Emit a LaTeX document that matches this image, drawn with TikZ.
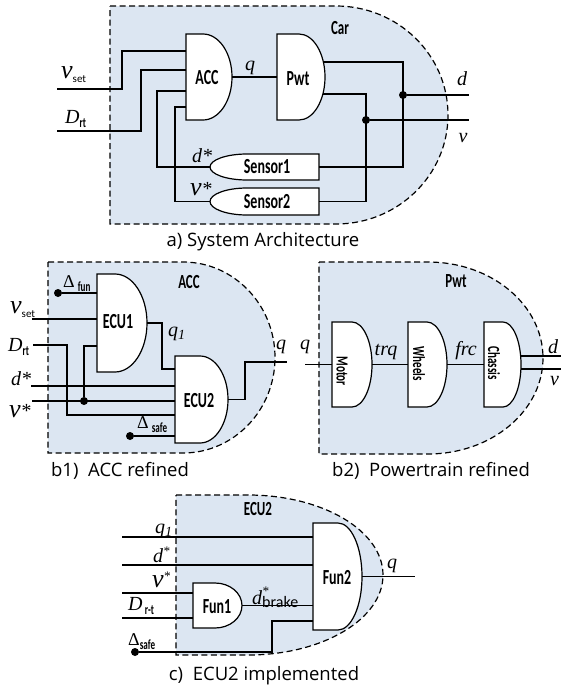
\documentclass[tikz,border=0pt]{standalone}
\usepackage{fontspec}
\setmainfont{Liberation Serif}
\newfontfamily\capfont{Open Sans}
\newfontfamily\condfont[FakeStretch=0.65]{Carlito}
\newfontfamily\plainsans{Carlito}

\definecolor{domeblue}{RGB}{220,230,242}

% flat box closed by a half ellipse on the right
\newcommand{\dome}[6]{%
  \path[#1] (#2,#3) -- (#5,#3)
    arc[start angle=-90, end angle=90, x radius=#6, y radius={(#4-#3)/2}]
    -- (#2,#4) -- cycle;}
\newcommand{\gatebox}[6]{%
  \dome{gateline}{#2}{#3}{#4}{#2+#5}{#6}
  \node[port, minimum width={(#5+#6)*1pt}, minimum height={(#4-#3)*1pt}]
    (#1) at ({#2+(#5+#6)/2},{(#3+#4)/2}) {};}
% same, rounded on the left
\newcommand{\sensorbox}[6]{%
  \path[gateline] (#2,#3) -- (#2-#5,#3)
    arc[start angle=-90, end angle=-270, x radius=#6, y radius={(#4-#3)/2}]
    -- (#2,#4) -- cycle;
  \node[port, minimum width={(#5+#6)*1pt}, minimum height={(#4-#3)*1pt}]
    (#1) at ({#2-(#5+#6)/2},{(#3+#4)/2}) {};}
\newcommand{\lowsans}[1]{\raisebox{-4pt}{\plainsans\upshape\fontsize{11}{11}\selectfont #1}}
\newcommand{\lowbold}[1]{\raisebox{-4pt}{\condfont\upshape\bfseries\fontsize{14}{14}\selectfont #1}}
\newcommand{\bigv}{{\fontsize{26}{26}\selectfont v}}
\newcommand{\upstar}{\raisebox{7pt}{\fontsize{13}{13}\selectfont *}}

\begin{document}
\begin{tikzpicture}[x=1pt, y=-1pt,
  wire/.style={line width=1.2pt},
  gateline/.style={draw, fill=white, line width=1.2pt},
  domeline/.style={draw, fill=domeblue, line width=1.2pt, dash pattern=on 6pt off 3.5pt},
  port/.style={inner sep=0pt, outer sep=0pt},
  blocktext/.style={font=\condfont\bfseries\fontsize{21.5}{21.5}\selectfont, inner sep=0pt},
  smallblock/.style={font=\condfont\bfseries\fontsize{17}{17}\selectfont, inner sep=0pt, rotate=-90},
  title/.style={font=\condfont\bfseries\fontsize{20}{20}\selectfont, inner sep=0pt},
  sig/.style={font=\itshape\fontsize{20}{20}\selectfont, inner sep=0pt},
  delta/.style={font=\upshape\fontsize{18}{18}\selectfont, inner sep=0pt},
  caption/.style={font=\capfont\fontsize{18.5}{20}\selectfont, inner sep=0pt},
  dot/.style={circle, fill, inner sep=0pt, minimum size=8pt}]
\useasboundingbox (0,0) rectangle (561,696);

% a) system architecture
\dome{domeline}{110}{6}{224}{336}{112}
\node[title] (cartitle) at (340,28) {Car};
\gatebox{ACC}{186}{34}{120}{17}{29}
\gatebox{Pwt}{277}{34}{120}{22}{26}
\sensorbox{S1}{319}{154}{180}{72}{37}
\sensorbox{S2}{319}{188}{215}{72}{37}
\node[blocktext] (acctext) at (207,78) {ACC};
\node[blocktext] (pwttext) at (298,79) {Pwt};
\node[blocktext] (s1text) at (267,167) {Sensor1};
\node[blocktext] (s2text) at (267,202) {Sensor2};

\coordinate (vset) at (57,89);
\coordinate (drt) at (57,131);
\coordinate (acc1) at (186,51);
\coordinate (acc2) at (186,70);
\coordinate (acc3) at (186,91);
\coordinate (acc4) at (186,107);
\coordinate (pwt1) at (323,62);
\coordinate (pwt2) at (323,94);
\coordinate (dout) at (469,95);
\coordinate (vout) at (469,120);
\node[dot] (j1) at (403,95) {};
\node[dot] (j2) at (366,120) {};

\draw[wire] (vset) -- ++(65,0) |- (acc1);
\draw[wire] (drt) -- ++(84,0) |- (acc2);
\draw[wire] (acc3) -- ++(-29,0) |- (S1.west);
\draw[wire] (acc4) -- ++(-11,0) |- (S2.west);
\draw[wire] (ACC.east) -- (Pwt.west);
\draw[wire] (pwt1) -- ++(80,0) |- (S1.east);
\draw[wire] (pwt2) -- ++(43,0) |- (S2.east);
\draw[wire] (j1) -- (dout);
\draw[wire] (j2) -- (vout);

\node[sig, anchor=base west] (vsetlab) at (61,78) {\bigv\lowsans{set}};
\node[sig, anchor=base west] (drtlab) at (65,123) {D\lowbold{rt}};
\node[sig, anchor=base] (qlab) at (250,70) {q};
\node[sig, anchor=base west] (dstarlab) at (192,162) {d*};
\node[sig, anchor=base west] (vstarlab) at (190,195) {\bigv*};
\node[sig, anchor=base] (doutlab) at (462,85) {d};
\node[sig, anchor=base] (voutlab) at (463,142) {v};
\node[caption, anchor=base] (capa) at (263,246) {a) System Architecture};

% b1) ACC refined
\dome{domeline}{48}{262}{453}{183}{92}
\node[title] (acctitle) at (189,282) {ACC};
\gatebox{ECU1}{97}{274}{372}{18}{32}
\gatebox{ECUb}{175}{356}{443}{25}{28}
\node[blocktext] (ecu1text) at (118,322) {ECU1};
\node[blocktext] (ecubtext) at (199,401) {ECU2};

\coordinate (vsetb) at (32,319);
\coordinate (drtb) at (33,345);
\coordinate (dsb) at (31,386);
\coordinate (vsb) at (32,401);
\coordinate (e1c) at (97,346);
\coordinate (e2a) at (175,369);
\coordinate (e2e) at (175,415);
\coordinate (qoutb) at (287,362);
\node[dot] (dfun) at (58,293) {};
\node[dot] (jv) at (84,401) {};
\node[dot] (dsafeb) at (130,436) {};

\draw[wire] (dfun) -- (ECU1.west |- dfun);
\draw[wire] (vsetb) -- (ECU1.west |- vsetb);
\draw[wire] (e1c) -| (jv);
\draw[wire] (drtb) -- ++(34,0) |- (e2e);
\draw[wire] (dsb) -- (ECUb.west |- dsb);
\draw[wire] (vsb) -- (ECUb.west |- vsb);
\draw[wire] (ECU1.east) -- ++(15,0) |- (e2a);
\draw[wire] (dsafeb) -- (ECUb.west |- dsafeb);
\draw[wire] (ECUb.east) -- ++(17,0) |- (qoutb);

\node[delta, anchor=base west] (dfunlab) at (63,287) {Δ\,\lowbold{fun}};
\node[sig, anchor=base west] (vsetblab) at (10,313) {\bigv\lowsans{set}};
\node[sig, anchor=base west] (drtblab) at (8,351) {D\lowbold{rt}};
\node[sig, anchor=base west] (dsblab) at (11,385) {d*};
\node[sig, anchor=base west] (vsblab) at (9,417) {\bigv*};
\node[sig, anchor=base west] (q1lab) at (168,336) {q\raisebox{-3pt}{\fontsize{14}{14}\selectfont 1}};
\node[delta, anchor=base west] (dsafeblab) at (137,428) {Δ\,\lowbold{safe}};
\node[sig, anchor=base] (qoutblab) at (281,349) {q};
\node[caption, anchor=base] (capb1) at (120,476) {b1)~~ACC refined};

% b2) powertrain refined
\dome{domeline}{319}{262}{454}{428}{115}
\node[title] (pwttitle) at (456,281) {Pwt};
\gatebox{Motor}{332}{322}{407}{20}{20}
\gatebox{Wheels}{408}{322}{407}{19}{20}
\gatebox{Chassis}{484}{322}{407}{19}{18}
\node[smallblock] (motortext) at (342,371) {Motor};
\node[smallblock] (wheelstext) at (419,364) {Wheels};
\node[smallblock] (chassistext) at (494,363) {Chassis};

\coordinate (qinb) at (305,364.5);
\coordinate (dchs) at (561,356);
\coordinate (vchs) at (561,369);
\draw[wire] (qinb) -- (Motor.west);
\draw[wire] (Motor.east) -- (Wheels.west);
\draw[wire] (Wheels.east) -- (Chassis.west);
\draw[wire] (Chassis.east |- dchs) -- (dchs);
\draw[wire] (Chassis.east |- vchs) -- (vchs);

\node[sig, anchor=base] (qinlab) at (305,349) {q};
\node[sig, anchor=base] (trqlab) at (386,355) {trq};
\node[sig, anchor=base] (frclab) at (466,355) {frc};
\node[sig, anchor=base west] (dchslab) at (548,353) {d};
\node[sig, anchor=base west] (vchslab) at (550,385) {v};
\node[caption, anchor=base] (capb2) at (431,476) {b2)~~Powertrain refined};

% c) ECU2 implemented
\dome{domeline}{176}{495}{655}{248}{135}
\node[title] (ecutitle) at (258,509) {ECU2};
\gatebox{Fun1}{193}{583}{628}{22}{27}
\gatebox{Fun2}{313}{523}{630}{25}{24}
\node[blocktext] (fun1text) at (217,607) {Fun1};
\node[blocktext] (fun2text) at (337,578) {Fun2};

\coordinate (q1c) at (122,537);
\coordinate (dsc) at (122,565);
\coordinate (vsc) at (122,593);
\coordinate (drc) at (122,618);
\coordinate (f2d) at (313,621);
\node[dot] (dsafec) at (135,652) {};

\draw[wire] (q1c) -- (Fun2.west |- q1c);
\draw[wire] (dsc) -- (Fun2.west |- dsc);
\draw[wire] (vsc) -- (Fun1.west |- vsc);
\draw[wire] (drc) -- (Fun1.west |- drc);
\draw[wire] (Fun1.east) -- (Fun1.east -| Fun2.west);
\draw[wire] (dsafec) -- ++(137,0) |- (f2d);
\draw[wire] (Fun2.east) -- ++(53,0);

\node[sig, anchor=base west] (q1clab) at (155,533) {q\raisebox{-3pt}{\fontsize{14}{14}\selectfont 1}};
\node[sig, anchor=base west] (dsclab) at (153,562) {d\upstar};
\node[sig, anchor=base west] (vsclab) at (152,587) {\bigv\upstar};
\node[sig, anchor=base west] (drclab) at (128,610) {D\lowbold{\,r-t}};
\node[delta, anchor=base west] (dsafeclab) at (128,645) {Δ\lowbold{safe}};
\node[sig, anchor=base west] (dbrakelab) at (252,604) {d\rlap{\raisebox{9pt}{\fontsize{13}{13}\selectfont *}}\raisebox{-3pt}{\plainsans\upshape\fontsize{16}{16}\selectfont brake}};
\node[sig, anchor=base] (qclab) at (392,568) {q};
\node[caption, anchor=base] (capc) at (264,680) {c)~~ECU2 implemented};
\end{tikzpicture}
\end{document}
